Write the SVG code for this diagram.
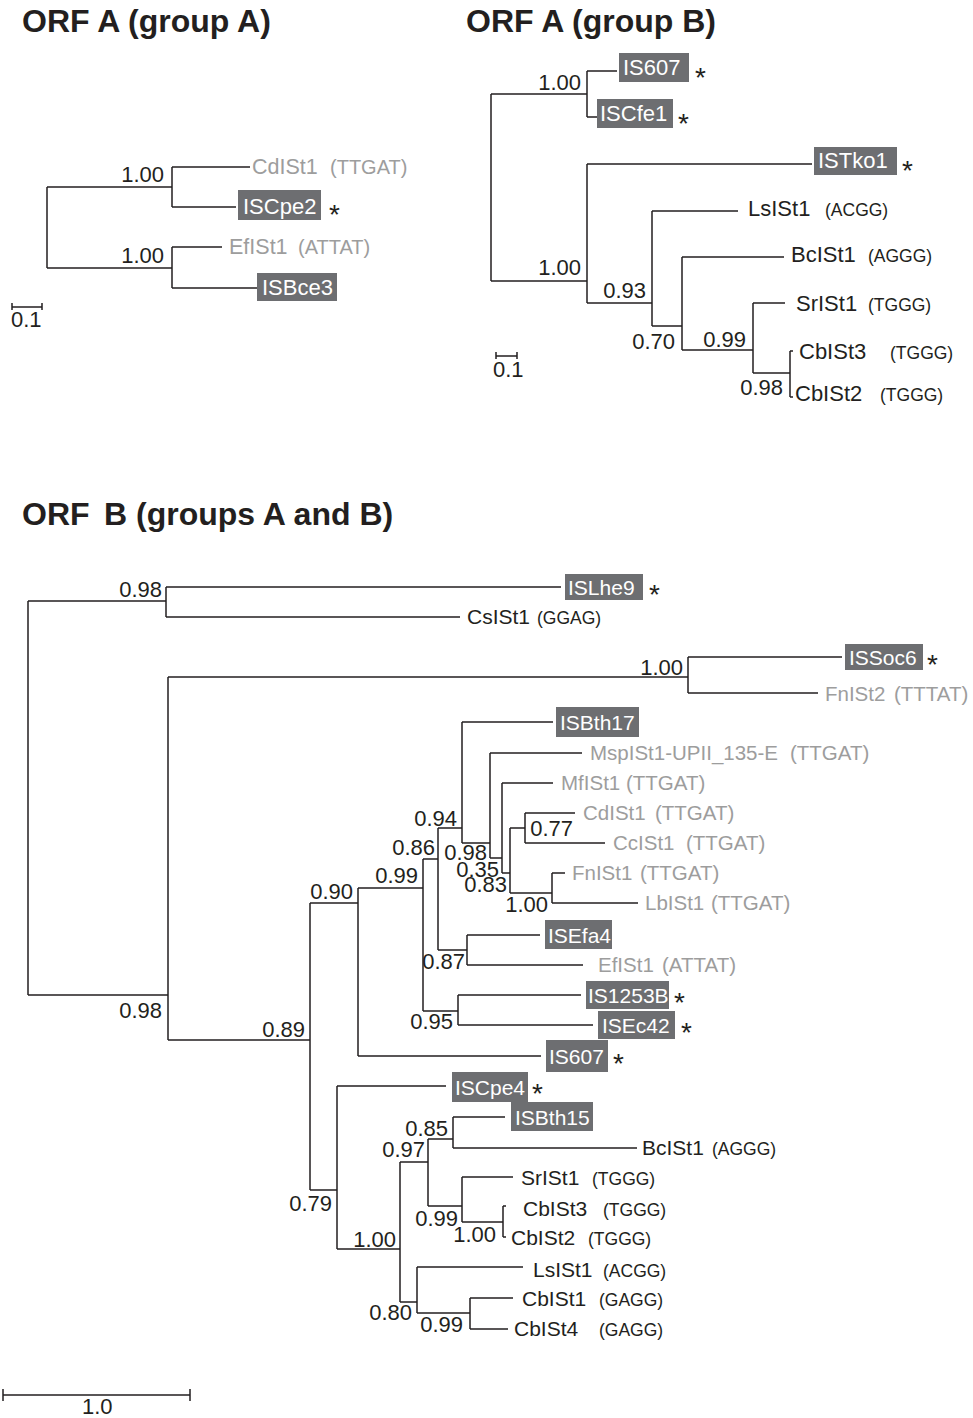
<svg xmlns="http://www.w3.org/2000/svg" width="973" height="1418" viewBox="0 0 973 1418">
<style>
text{font-family:"Liberation Sans",Arial,sans-serif;fill:#231f20}
.title{font-weight:bold;font-size:32px}
.lb{font-size:22px}
.nm{font-size:22px}
.nb{font-size:21px}
.gr{font-size:20.5px;fill:#9d9d9d}
.gt{font-size:21.5px;fill:#9d9d9d}
.sm{font-size:17.5px}
.gs{font-size:20px}
.bx{fill:#6d6e71}
.wt{fill:#ffffff}
.st{font-size:28px}
.ln{fill:none;stroke:#231f20;stroke-width:1.5}
</style>
<rect width="973" height="1418" fill="#ffffff"/>

<g id="titles">
<text class="title" x="22" y="32">ORF A (group A)</text>
<text class="title" x="466" y="32">ORF A (group B)</text>
<text class="title" x="22" y="525">ORF<tspan x="104">B (groups A and B)</tspan></text>
</g>

<g id="connectors" class="ln">
<!-- top-left tree -->
<path d="M47 187V268M47 187H172M172 167V207M172 167H250M172 207H236M47 268H172M172 247V288M172 247H222M172 288H257"/>
<path d="M12 307H42M12 303V310M42 303V310"/>
<!-- top-right tree -->
<path d="M491 94V281M491 94H587M587 71V117M587 71H617M587 117H597M491 281H587M587 164V303M587 164H812M587 303H652M652 211V326M652 211H738M652 326H682M682 257V350M682 257H784M682 350H753M753 303V373M753 303H785M753 373H790M790 351V397M790 351H793M790 397H793"/>
<path d="M496 356H517M496 352V359M517 352V359"/>
<!-- bottom tree -->
<path d="M28 601V995M28 601H166M166 587V617M166 587H561M166 617H460M28 995H168M168 677V1040M168 677H688M688 657V693M688 657H842M688 693H818M168 1040H310M310 903V1190"/>
<path d="M310 903H358M358 888V1056M358 1056H541M358 888H423M423 859V1011M423 1011H458M458 995V1025M458 995H581M458 1025H593M423 859H438M438 828V950M438 950H467M467 935V965M467 935H540M467 965H583"/>
<path d="M438 828H462M462 722V843M462 722H553M462 843H490M490 753V858M490 753H582M490 858H502M502 783V873M502 783H553M502 873H510M510 828V893M510 828H525M525 813V843M525 813H575M525 843H605M510 893H552M552 873V903M552 873H565M552 903H638"/>
<path d="M310 1190H337M337 1086V1249M337 1086H446M337 1249H400M400 1162V1302M400 1162H428M428 1139V1206M428 1139H453M453 1117V1148M453 1117H505M453 1148H637M428 1206H462M462 1177V1222M462 1177H513M462 1222H503M503 1206V1237M503 1206H506M503 1237H506M400 1302H417M417 1267V1313M417 1267H523M417 1313H470M470 1298V1329M470 1298H513M470 1329H508"/>
<path d="M3 1395H190M3 1389V1401M190 1389V1401"/>
</g>

<g id="top-left">
<g id="tl-CdISt1"><text class="gt" x="252" y="174">CdISt1<tspan x="330" class="gs">(TTGAT)</tspan></text></g>
<g id="tl-ISCpe2"><rect class="bx" x="238" y="190" width="83" height="30"/><text class="nm wt" x="243" y="214">ISCpe2</text><text class="st" x="329" y="224">*</text></g>
<g id="tl-EfISt1"><text class="gt" x="229" y="254">EfISt1<tspan x="298" class="gs">(ATTAT)</tspan></text></g>
<g id="tl-ISBce3"><rect class="bx" x="257" y="273" width="80" height="28"/><text class="nm wt" x="262" y="295">ISBce3</text></g>
<g id="tl-n1"><text class="lb" x="164" y="182" text-anchor="end">1.00</text></g>
<g id="tl-n2"><text class="lb" x="164" y="263" text-anchor="end">1.00</text></g>
<g id="tl-scale"><text class="lb" x="11" y="327">0.1</text></g>
</g>

<g id="top-right">
<g id="tr-IS607"><rect class="bx" x="619" y="53" width="70" height="29"/><text class="nm wt" x="623" y="75">IS607</text><text class="st" x="695" y="87">*</text></g>
<g id="tr-ISCfe1"><rect class="bx" x="597" y="99" width="76" height="29"/><text class="nm wt" x="600" y="121">ISCfe1</text><text class="st" x="678" y="133">*</text></g>
<g id="tr-ISTko1"><rect class="bx" x="814" y="147" width="83" height="28"/><text class="nm wt" x="818" y="168">ISTko1</text><text class="st" x="902" y="180">*</text></g>
<g id="tr-LsISt1"><text class="nm" x="748" y="216">LsISt1<tspan x="825" class="sm">(ACGG)</tspan></text></g>
<g id="tr-BcISt1"><text class="nm" x="791" y="262">BcISt1<tspan x="868" class="sm">(AGGG)</tspan></text></g>
<g id="tr-SrISt1"><text class="nm" x="796" y="311">SrISt1<tspan x="868" class="sm">(TGGG)</tspan></text></g>
<g id="tr-CbISt3"><text class="nm" x="799" y="359">CbISt3<tspan x="890" class="sm">(TGGG)</tspan></text></g>
<g id="tr-CbISt2"><text class="nm" x="795" y="401">CbISt2<tspan x="880" class="sm">(TGGG)</tspan></text></g>
<g id="tr-n1"><text class="lb" x="581" y="90" text-anchor="end">1.00</text></g>
<g id="tr-n2"><text class="lb" x="581" y="275" text-anchor="end">1.00</text></g>
<g id="tr-n3"><text class="lb" x="646" y="298" text-anchor="end">0.93</text></g>
<g id="tr-n4"><text class="lb" x="675" y="349" text-anchor="end">0.70</text></g>
<g id="tr-n5"><text class="lb" x="746" y="347" text-anchor="end">0.99</text></g>
<g id="tr-n6"><text class="lb" x="783" y="395" text-anchor="end">0.98</text></g>
<g id="tr-scale"><text class="lb" x="493" y="377">0.1</text></g>
</g>

<g id="bottom">
<g id="b-ISLhe9"><rect class="bx" x="565" y="574" width="78" height="26"/><text class="nb wt" x="568" y="595">ISLhe9</text><text class="st" x="649" y="604">*</text></g>
<g id="b-CsISt1"><text class="nb" x="467" y="624">CsISt1<tspan x="537" class="sm">(GGAG)</tspan></text></g>
<g id="b-ISSoc6"><rect class="bx" x="845" y="644" width="78" height="26"/><text class="nb wt" x="849" y="665">ISSoc6</text><text class="st" x="927" y="674">*</text></g>
<g id="b-FnISt2"><text class="gr" x="825" y="701">FnISt2<tspan x="894">(TTTAT)</tspan></text></g>
<g id="b-ISBth17"><rect class="bx" x="556" y="707" width="83" height="30"/><text class="nb wt" x="560" y="730">ISBth17</text></g>
<g id="b-MspISt1"><text class="gr" x="590" y="760">MspISt1-UPII_135-E<tspan x="790">(TTGAT)</tspan></text></g>
<g id="b-MfISt1"><text class="gr" x="561" y="790">MfISt1<tspan x="626">(TTGAT)</tspan></text></g>
<g id="b-CdISt1"><text class="gr" x="583" y="820">CdISt1<tspan x="655">(TTGAT)</tspan></text></g>
<g id="b-CcISt1"><text class="gr" x="613" y="850">CcISt1<tspan x="686">(TTGAT)</tspan></text></g>
<g id="b-FnISt1"><text class="gr" x="572" y="880">FnISt1<tspan x="640">(TTGAT)</tspan></text></g>
<g id="b-LbISt1"><text class="gr" x="645" y="910">LbISt1<tspan x="711">(TTGAT)</tspan></text></g>
<g id="b-ISEfa4"><rect class="bx" x="545" y="920" width="67" height="29"/><text class="nb wt" x="548" y="943">ISEfa4</text></g>
<g id="b-EfISt1"><text class="gr" x="598" y="972">EfISt1<tspan x="662">(ATTAT)</tspan></text></g>
<g id="b-IS1253B"><rect class="bx" x="586" y="981" width="83" height="28"/><text class="nb wt" x="588" y="1003">IS1253B</text><text class="st" x="674" y="1012">*</text></g>
<g id="b-ISEc42"><rect class="bx" x="598" y="1011" width="77" height="28"/><text class="nb wt" x="602" y="1033">ISEc42</text><text class="st" x="681" y="1042">*</text></g>
<g id="b-IS607"><rect class="bx" x="546" y="1040" width="62" height="32"/><text class="nb wt" x="549" y="1064">IS607</text><text class="st" x="613" y="1073">*</text></g>
<g id="b-ISCpe4"><rect class="bx" x="452" y="1072" width="76" height="30"/><text class="nb wt" x="455" y="1095">ISCpe4</text><text class="st" x="532" y="1103">*</text></g>
<g id="b-ISBth15"><rect class="bx" x="511" y="1102" width="82" height="29"/><text class="nb wt" x="515" y="1125">ISBth15</text></g>
<g id="b-BcISt1"><text class="nb" x="642" y="1155">BcISt1<tspan x="712" class="sm">(AGGG)</tspan></text></g>
<g id="b-SrISt1"><text class="nb" x="521" y="1185">SrISt1<tspan x="592" class="sm">(TGGG)</tspan></text></g>
<g id="b-CbISt3"><text class="nb" x="523" y="1216">CbISt3<tspan x="603" class="sm">(TGGG)</tspan></text></g>
<g id="b-CbISt2"><text class="nb" x="511" y="1245">CbISt2<tspan x="588" class="sm">(TGGG)</tspan></text></g>
<g id="b-LsISt1"><text class="nb" x="533" y="1277">LsISt1<tspan x="603" class="sm">(ACGG)</tspan></text></g>
<g id="b-CbISt1"><text class="nb" x="522" y="1306">CbISt1<tspan x="599" class="sm">(GAGG)</tspan></text></g>
<g id="b-CbISt4"><text class="nb" x="514" y="1336">CbISt4<tspan x="599" class="sm">(GAGG)</tspan></text></g>
<g id="b-labels">
<text class="lb" x="162" y="597" text-anchor="end">0.98</text>
<text class="lb" x="683" y="675" text-anchor="end">1.00</text>
<text class="lb" x="162" y="1018" text-anchor="end">0.98</text>
<text class="lb" x="305" y="1037" text-anchor="end">0.89</text>
<text class="lb" x="353" y="899" text-anchor="end">0.90</text>
<text class="lb" x="418" y="883" text-anchor="end">0.99</text>
<text class="lb" x="435" y="855" text-anchor="end">0.86</text>
<text class="lb" x="457" y="826" text-anchor="end">0.94</text>
<text class="lb" x="487" y="860" text-anchor="end">0.98</text>
<text class="lb" x="499" y="877" text-anchor="end">0.35</text>
<text class="lb" x="507" y="892" text-anchor="end">0.83</text>
<text class="lb" x="548" y="912" text-anchor="end">1.00</text>
<text class="lb" x="573" y="836" text-anchor="end">0.77</text>
<text class="lb" x="465" y="969" text-anchor="end">0.87</text>
<text class="lb" x="453" y="1029" text-anchor="end">0.95</text>
<text class="lb" x="332" y="1211" text-anchor="end">0.79</text>
<text class="lb" x="396" y="1247" text-anchor="end">1.00</text>
<text class="lb" x="425" y="1157" text-anchor="end">0.97</text>
<text class="lb" x="448" y="1136" text-anchor="end">0.85</text>
<text class="lb" x="458" y="1226" text-anchor="end">0.99</text>
<text class="lb" x="496" y="1242" text-anchor="end">1.00</text>
<text class="lb" x="412" y="1320" text-anchor="end">0.80</text>
<text class="lb" x="463" y="1332" text-anchor="end">0.99</text>
<text class="lb" x="82" y="1414">1.0</text>
</g>
</g>
</svg>
